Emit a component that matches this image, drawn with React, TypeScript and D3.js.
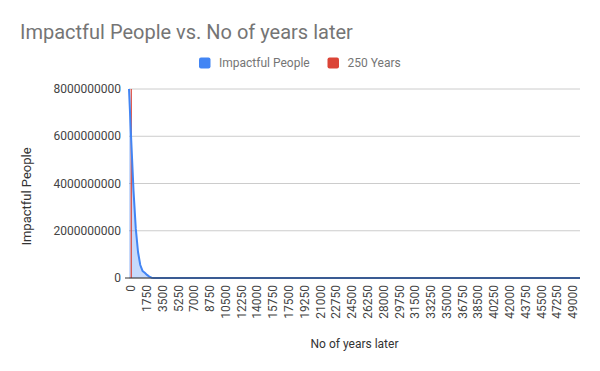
import React from 'react';
import * as d3 from 'd3';

// years after start, and the people still impacted at that point
const years = [0, 250, 500, 750, 1000, 1250, 1500, 1750, 2000, 2250, 2500, 2750, 50000];
const impactfulPeople = [
  8000000000, 5800000000, 3700000000, 2100000000, 1100000000, 550000000,
  300000000, 220000000, 130000000, 60000000, 15000000, 0, 0,
];
// the "250 Years" marker series: a vertical line at year 250
const markerYears = [250, 250];
const markerValues = [0, 8000000000];

const xTicks = [
  0, 1750, 3500, 5250, 7000, 8750, 10500, 12250, 14000, 15750, 17500, 19250,
  21000, 22750, 24500, 26250, 28000, 29750, 31500, 33250, 35000, 36750, 38500,
  40250, 42000, 43750, 45500, 47250, 49000,
];
const yTicks = [0, 2000000000, 4000000000, 6000000000, 8000000000];

const seriesNames = ['Impactful People', '250 Years'];
const colors = ['#4285f4', '#db4437'];

const W = 600;
const H = 371;
const left = 129;
const right = 580;
const top = 89;
const bottom = 278;

const App = () => {
  const x = d3.scaleLinear().domain([0, 50000]).range([left, right]);
  const y = d3.scaleLinear().domain([0, 8000000000]).range([bottom, top]);

  const pts = years.map((yr, i) => [yr, impactfulPeople[i]] as [number, number]);
  const line = d3.line<[number, number]>().x(d => x(d[0])).y(d => y(d[1]));
  const area = d3.area<[number, number]>().x(d => x(d[0])).y0(y(0)).y1(d => y(d[1]));
  const markerPts = markerYears.map((yr, i) => [yr, markerValues[i]] as [number, number]);

  const font = 'Roboto, Arial, sans-serif';

  return (
    <svg width={W} height={H} style={{ position: 'absolute', left: 0, top: 0, background: '#fff' }}>
      <rect width={W} height={H} fill="#fff" />
      <text x={20} y={38.5} fontFamily={font} fontSize={20} fill="#757575">
        Impactful People vs. No of years later
      </text>

      {/* legend */}
      {seriesNames.map((name, i) => {
        const lx = i === 0 ? 199 : 327.5;
        return (
          <g key={name}>
            <rect x={lx} y={57.5} width={11.5} height={11} rx={2} fill={colors[i]} />
            <text x={lx + 20} y={66.7} fontFamily={font} fontSize={12} fill="#757575">
              {name}
            </text>
          </g>
        );
      })}

      {/* gridlines and y labels */}
      {yTicks.map(t => (
        <g key={t}>
          <line x1={left} x2={right} y1={y(t)} y2={y(t)} stroke="#cccccc" strokeWidth={1} />
          <text x={121} y={y(t)} dy="0.35em" textAnchor="end" fontFamily={font} fontSize={12} fill="#444">
            {t}
          </text>
        </g>
      ))}

      {/* series */}
      <path d={area(pts) ?? ''} fill={colors[0]} fillOpacity={0.3} stroke="none" />
      <path d={line(markerPts) ?? ''} fill="none" stroke={colors[1]} strokeWidth={1.2} />
      <path d={line(pts) ?? ''} fill="none" stroke={colors[0]} strokeWidth={2} strokeLinejoin="round" />

      {/* baseline */}
      <line x1={left - 4} x2={right} y1={y(0)} y2={y(0)} stroke="#333" strokeWidth={1} />

      {/* x tick labels */}
      {xTicks.map(t => (
        <text
          key={t}
          transform={`translate(${x(t) + 2},${285}) rotate(-90)`}
          dy="0.35em"
          textAnchor="end"
          fontFamily={font}
          fontSize={12}
          fill="#444"
        >
          {t}
        </text>
      ))}

      <text x={(left + right) / 2} y={348} textAnchor="middle" fontFamily={font} fontSize={12} fill="#333">
        No of years later
      </text>
      <text
        transform={`translate(30.5,196.5) rotate(-90)`}
        textAnchor="middle"
        fontFamily={font}
        fontSize={13}
        fill="#333"
      >
        Impactful People
      </text>
    </svg>
  );
};

export default App;
